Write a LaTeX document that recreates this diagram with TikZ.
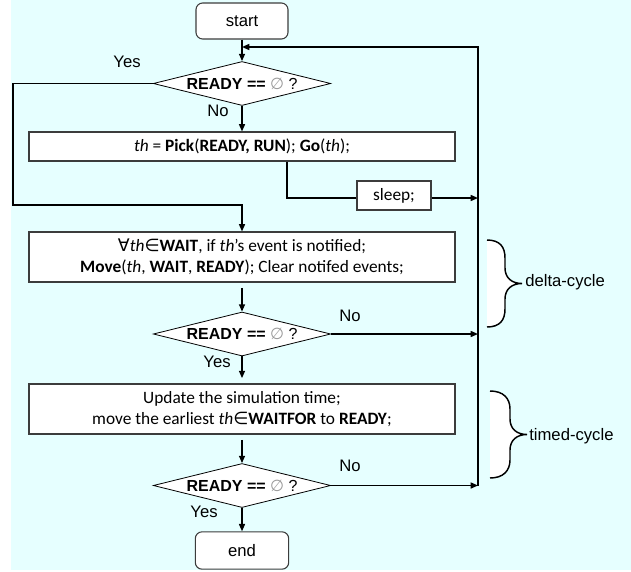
\documentclass[tikz,border=0pt]{standalone}
\usepackage{fontspec}
\setmainfont{Liberation Sans}
\newfontfamily\calfont{Carlito}
\newfontfamily\djv{DejaVu Sans}
\usetikzlibrary{arrows.meta,shapes.geometric}
\definecolor{bgcyan}{RGB}{230,255,255}
\definecolor{boxgray}{RGB}{60,60,60}
\newcommand{\emptymark}{{\color{gray!80}\djv ∅}}
\begin{document}
\begin{tikzpicture}[x=0.75pt,y=-0.75pt,
  conn/.style={line width=1.1pt, draw=black},
  arr/.style={conn, -{Triangle[length=5.5pt,width=4.5pt]}},
  term/.style={draw=boxgray, line width=0.8pt, fill=white, rounded corners=5pt,
    minimum width=69pt, minimum height=27pt, inner sep=0pt, font=\fontsize{12.5}{15}\selectfont},
  proc/.style={draw=boxgray, line width=0.8pt, fill=white, minimum width=319.5pt,
    align=center, inner sep=0pt, font=\calfont\fontsize{13}{15.75}\selectfont},
  dec/.style={diamond, draw=black, line width=0.6pt, fill=white, aspect=4,
    minimum width=133pt, minimum height=33pt, inner sep=0pt, font=\fontsize{12}{14}\selectfont},
  lab/.style={font=\fontsize{12.5}{15}\selectfont, inner sep=0pt},
  brace/.style={draw=black, line width=1.1pt}]
\useasboundingbox (0,0) rectangle (631,571);
\fill[bgcyan] (11,0) rectangle (631,570);

% nodes
\node[term] (start) at (242,21) {start};
\node[dec] (d1) at (242,83.5) {\textbf{READY ==} \emptymark\ ?};
\node[proc, minimum height=21.75pt] (box1) at (242,146.5)
  {\textit{th} = \textbf{Pick}(\textbf{READY, RUN}); \textbf{Go}(\textit{th});};
\node[proc, minimum width=55.5pt, minimum height=21.75pt] (sleep) at (394,195.5) {sleep;};
\node[proc, minimum height=37.5pt] (box2) at (242,257)
  {{\djv ∀}\textit{th}{\djv ∈}\textbf{WAIT}, if \textit{th}’s event is notified;\\
   \textbf{Move}(\textit{th}, \textbf{WAIT}, \textbf{READY}); Clear notifed events;};
\node[dec] (d2) at (242,334) {\textbf{READY ==} \emptymark\ ?};
\node[proc, minimum height=37.5pt] (box3) at (242,409)
  {Update the simulation time;\\
   move the earliest \textit{th}{\djv ∈}\textbf{WAITFOR} to \textbf{READY};};
\node[dec] (d3) at (242,485.5) {\textbf{READY ==} \emptymark\ ?};
\node[term, minimum width=70pt, minimum height=28pt] (end) at (242,550.5) {end};

% labels
\node[lab] (yes1) at (127,62) {Yes};
\node[lab] (no1) at (218,111) {No};
\node[lab] (no2) at (350,316) {No};
\node[lab] (yes2) at (217,362) {Yes};
\node[lab] (no3) at (350,466) {No};
\node[lab] (yes3) at (204,512) {Yes};

% helper coordinates
\coordinate (lp) at (478,47);
\coordinate (lpb) at (478,486);
\coordinate (yl) at (13,205);
\coordinate (sb) at (287,198);

% connectors
\draw[arr] (start.south) -- (d1.north);
\draw[arr] (d1.south) -- (box1.north);
\draw[arr] (d1.west) -| (yl) -| (box2.north);
\draw[conn] (box1.south -| sb) -- (sb) -- (sb -| sleep.west);
\draw[arr] (sleep.east |- sb) -- (sb -| lp);
\draw[arr] (lpb) -- (lp) -- (lp -| start.south);
\draw[arr, shorten <=4pt] (box2.south) -- (d2.north);
\draw[arr] (d2.east) -- (d2.east -| lp);
\draw[arr, shorten >=4pt] (d2.south) -- (box3.north);
\draw[arr, shorten <=4pt] (box3.south) -- (d3.north);
\draw[arr] (d3.east) -- (d3.east -| lp);
\draw[arr] (d3.south) -- (end.north);

% braces
\fill[white] (487,240) .. controls (500,240) and (505,247) .. (505,258) -- (505,268)
  .. controls (505,278) and (512,283.5) .. (522,283.5)
  .. controls (512,283.5) and (505,289) .. (505,299) -- (505,309)
  .. controls (505,320) and (500,327) .. (487,327) -- cycle;
\draw[brace] (487,240) .. controls (500,240) and (505,247) .. (505,258) -- (505,268)
  .. controls (505,278) and (512,283.5) .. (522,283.5)
  .. controls (512,283.5) and (505,289) .. (505,299) -- (505,309)
  .. controls (505,320) and (500,327) .. (487,327);
\fill[white] (490,391) .. controls (503,391) and (510,398) .. (510,409) -- (510,419)
  .. controls (510,429) and (517,434.5) .. (527,434.5)
  .. controls (517,434.5) and (510,440) .. (510,450) -- (510,460)
  .. controls (510,471) and (503,478) .. (490,478) -- cycle;
\draw[brace] (490,391) .. controls (503,391) and (510,398) .. (510,409) -- (510,419)
  .. controls (510,429) and (517,434.5) .. (527,434.5)
  .. controls (517,434.5) and (510,440) .. (510,450) -- (510,460)
  .. controls (510,471) and (503,478) .. (490,478);
\node[lab, anchor=west] (delta) at (525,282) {delta-cycle};
\node[lab, anchor=west] (timed) at (529,436) {timed-cycle};
\end{tikzpicture}
\end{document}
